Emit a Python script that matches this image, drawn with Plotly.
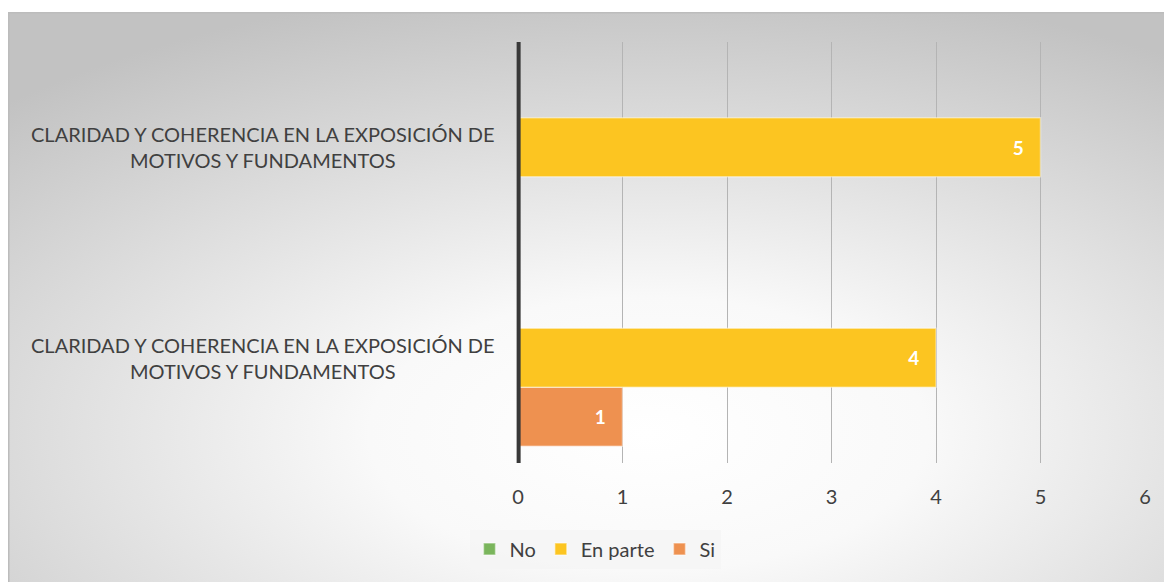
import base64
import plotly.graph_objects as go

# ---- data ----
category_labels = [
    "CLARIDAD Y COHERENCIA EN LA EXPOSICIÓN DE<br>MOTIVOS Y FUNDAMENTOS",  # bottom
    "CLARIDAD Y COHERENCIA EN LA EXPOSICIÓN DE<br>MOTIVOS Y FUNDAMENTOS",  # top
]
category_pos = [0, 1]
series_names = ["No", "En parte", "Si"]
no_values = [0, 0]
en_parte_values = [4, 5]
si_values = [1, 0]
x_ticks = [0, 1, 2, 3, 4, 5, 6]

colors = {"No": "#7AB55C", "En parte": "#FCC521", "Si": "#EE9150"}
values = {"No": no_values, "En parte": en_parte_values, "Si": si_values}

W, H = 1172, 582
OFF = 8  # page body margin
L, T = 518 - OFF, 42 - OFF
R = W - (1145 - OFF)
B = H - (463 - OFF)
pw, ph = W - L - R, H - T - B

font = "Lato, 'Open Sans', sans-serif"
txt = "#404040"

fig = go.Figure()
# traces added bottom-to-top within each group
for name in ["Si", "En parte", "No"]:
    vals = values[name]
    fig.add_trace(go.Bar(
        name=name, orientation="h", y=category_pos, x=vals,
        marker=dict(color=colors[name], line=dict(color="rgba(255,255,255,0.45)", width=1.5)),
        text=[(str(v) + "\u00a0\u00a0\u00a0") if v else "" for v in vals],
        textposition="inside", insidetextanchor="end",
        textfont=dict(color="white", size=19, family=font, weight="bold"),
        cliponaxis=False,
    ))

# background gradient image covering the chart area (figure coords)
bx0, by0, bx1, by1 = 0, 4, W - OFF, H - OFF
bw, bh = bx1 - bx0, by1 - by0
svg = f'''<svg xmlns="http://www.w3.org/2000/svg" width="{bw}" height="{bh}">
<defs><radialGradient id="g" cx="0.55" cy="0.74" r="0.8" gradientUnits="objectBoundingBox">
<stop offset="0" stop-color="#ffffff"/><stop offset="0.3" stop-color="#f9f9f9"/><stop offset="1" stop-color="#c2c2c2"/></radialGradient></defs>
<rect x="0" y="0" width="{bw}" height="{bh}" fill="url(#g)"/>
<rect x="0.75" y="0.75" width="{bw}" height="{bh}" fill="none" stroke="#bcbcbc" stroke-width="1.5"/>
</svg>'''
src = "data:image/svg+xml;base64," + base64.b64encode(svg.encode()).decode()
fig.add_layout_image(dict(
    source=src, xref="paper", yref="paper",
    x=(bx0 - L) / pw, y=1 + (T - by0) / ph,
    sizex=bw / pw, sizey=bh / ph,
    xanchor="left", yanchor="top", sizing="stretch", layer="below",
))

for p, lab in zip(category_pos, category_labels):
    fig.add_annotation(
        x=0, xref="paper", y=p, yref="y", text=lab, showarrow=False,
        xanchor="right", yanchor="middle", align="center", xshift=-21,
        font=dict(family=font, size=20, color=txt),
    )

fig.update_layout(
    width=W, height=H,
    margin=dict(l=L, r=R, t=T, b=B),
    paper_bgcolor="white", plot_bgcolor="rgba(0,0,0,0)",
    barmode="group", bargap=0.16, bargroupgap=0,
    font=dict(family=font, size=20, color=txt),
    legend=dict(
        orientation="h", traceorder="reversed",
        x=(595 - OFF - L) / pw, xanchor="center",
        y=-(549 - OFF - (T + ph)) / ph, yanchor="middle",
        bgcolor="rgba(244,244,244,0.75)",
        font=dict(family=font, size=20, color=txt),
        itemwidth=30,
    ),
    xaxis=dict(
        range=[0, 6], tickvals=x_ticks, showgrid=True, gridcolor="#b4b4b4", gridwidth=1,
        zeroline=False, showline=False, ticks="", ticklabelstandoff=20,
        tickfont=dict(family=font, size=20, color=txt),
    ),
    yaxis=dict(
        range=[-0.5, 1.5], tickvals=category_pos, showticklabels=False,
        showgrid=False, zeroline=False, showline=False,
    ),
)
# category axis line (x = 0 is the left edge of the plot area); paper refs avoid clipping
fig.add_shape(type="line", xref="paper", yref="paper", x0=0.001, x1=0.001, y0=0, y1=1,
              line=dict(color="#383838", width=4), layer="above")

fig.write_html("out.html")
